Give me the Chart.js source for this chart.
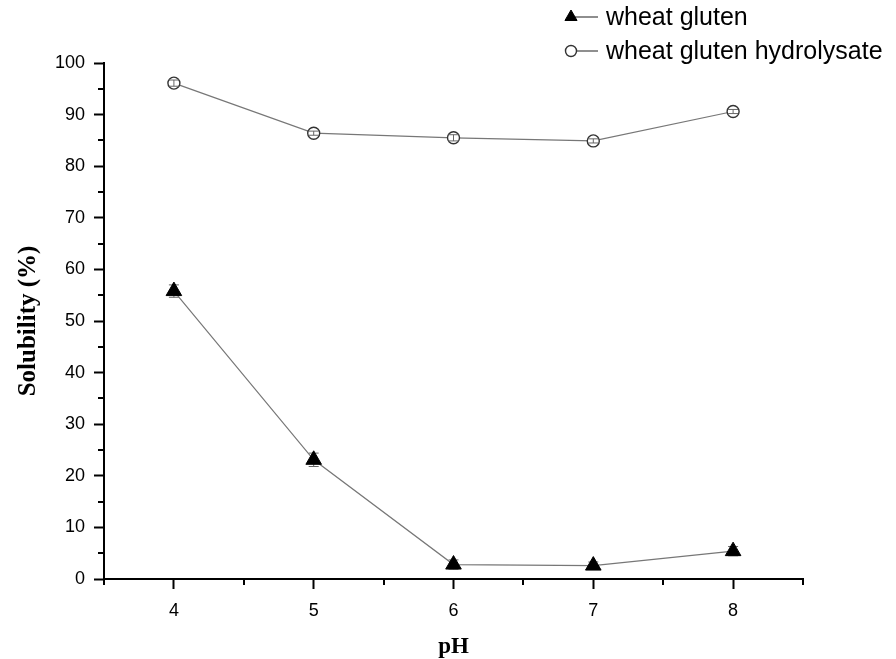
<!DOCTYPE html>
<html>
<head>
<meta charset="utf-8">
<script src="https://cdn.jsdelivr.net/npm/chart.js@4.4.1/dist/chart.umd.min.js"></script>
<style>
  html, body { margin: 0; padding: 0; background: #fff; }
  #wrap { width: 896px; height: 659px; }
</style>
</head>
<body>
<div id="wrap"><canvas id="solChart" width="896" height="659"></canvas></div>
<script>
// pH values and solubility (%)
const phValues = [4, 5, 6, 7, 8];
const glutenValues = [55.8, 23.1, 2.8, 2.6, 5.4];
const glutenErrors = [1.2, 1.3, 0.9, 0.7, 0.9];
const hydrolysateValues = [96.1, 86.4, 85.5, 84.9, 90.6];
const hydrolysateErrors = [0.6, 0.4, 0.6, 0.4, 0.4];

const xMajorTicks = [4, 5, 6, 7, 8];
const xMinorTicks = [3.5, 4.5, 5.5, 6.5, 7.5, 8.5];
const yMajorTicks = [0, 10, 20, 30, 40, 50, 60, 70, 80, 90, 100];
const yMinorTicks = [5, 15, 25, 35, 45, 55, 65, 75, 85, 95];

const seriesNames = ['wheat gluten', 'wheat gluten hydrolysate'];

const toPoints = (vals, errs) => phValues.map((x, i) => ({ x, y: vals[i], err: errs[i] }));

// short ticks at the half steps, drawn through the scales
const minorTicks = {
    id: 'minorTicks',
    afterDraw(chart) {
        const { ctx, chartArea } = chart;
        const xs = chart.scales.x, ys = chart.scales.y;
        ctx.save();
        ctx.strokeStyle = '#000';
        ctx.lineWidth = 2;
        ctx.beginPath();
        xMinorTicks.forEach(v => {
            const px = Math.round(xs.getPixelForValue(v));
            ctx.moveTo(px, chartArea.bottom);
            ctx.lineTo(px, chartArea.bottom + 6);
        });
        yMinorTicks.forEach(v => {
            const py = Math.round(ys.getPixelForValue(v));
            ctx.moveTo(chartArea.left, py);
            ctx.lineTo(chartArea.left - 6, py);
        });
        ctx.stroke();
        ctx.restore();
    }
};

// small error bars with caps; under the triangles, over the open circles
function drawErrors(chart, ds) {
    const ctx = chart.ctx;
    const xs = chart.scales.x, ys = chart.scales.y;
    ctx.save();
    ctx.strokeStyle = '#666';
    ctx.lineWidth = 1;
    ds.data.forEach(p => {
        const px = xs.getPixelForValue(p.x);
        const top = ys.getPixelForValue(p.y + p.err);
        const bot = ys.getPixelForValue(p.y - p.err);
        ctx.beginPath();
        ctx.moveTo(px, top); ctx.lineTo(px, bot);
        ctx.moveTo(px - 5, top); ctx.lineTo(px + 5, top);
        ctx.moveTo(px - 5, bot); ctx.lineTo(px + 5, bot);
        ctx.stroke();
    });
    ctx.restore();
}

const errorBars = {
    id: 'errorBars',
    beforeDatasetsDraw(chart) {
        drawErrors(chart, chart.data.datasets[0]);
    },
    afterDatasetsDraw(chart) {
        drawErrors(chart, chart.data.datasets[1]);
    }
};

// legend in origin style: marker + short line + label
const originLegend = {
    id: 'originLegend',
    afterDraw(chart) {
        const ctx = chart.ctx;
        ctx.save();
        chart.data.datasets.forEach((ds, i) => {
            const y = 17 + i * 34;
            ctx.strokeStyle = '#444';
            ctx.lineWidth = 1.2;
            ctx.beginPath();
            ctx.moveTo(571, y);
            ctx.lineTo(598, y);
            ctx.stroke();
            ctx.fillStyle = ds.pointBackgroundColor;
            ctx.strokeStyle = ds.pointBorderColor;
            ctx.lineWidth = ds.pointBorderWidth;
            Chart.helpers.drawPoint(ctx, {
                pointStyle: ds.pointStyle,
                radius: ds.pointStyle === 'triangle' ? 7 : 5.5,
                borderWidth: ds.pointBorderWidth,
                rotation: 0
            }, 571, y);
            ctx.fillStyle = '#000';
            ctx.font = '25px "Liberation Sans", Arial, sans-serif';
            ctx.textBaseline = 'middle';
            ctx.fillText(ds.label, 606, y + 1);
        });
        ctx.restore();
    }
};

const ctx = document.getElementById('solChart').getContext('2d');
const solChart = new Chart(ctx, {
    type: 'line',
    data: {
        datasets: [{
            label: seriesNames[0],
            data: toPoints(glutenValues, glutenErrors),
            borderColor: '#777',
            borderWidth: 1.2,
            pointStyle: 'triangle',
            pointRadius: 9,
            pointBackgroundColor: '#000',
            pointBorderColor: '#000',
            pointBorderWidth: 1
        }, {
            label: seriesNames[1],
            data: toPoints(hydrolysateValues, hydrolysateErrors),
            borderColor: '#777',
            borderWidth: 1.2,
            pointStyle: 'circle',
            pointRadius: 6,
            pointBackgroundColor: '#fff',
            pointBorderColor: '#333',
            pointBorderWidth: 1.4
        }]
    },
    options: {
        responsive: false,
        animation: false,
        events: [],
        layout: { padding: { top: 63, right: 93, left: 0, bottom: 0 } },
        plugins: {
            legend: { display: false },
            tooltip: { enabled: false }
        },
        scales: {
            x: {
                type: 'linear',
                min: 3.5,
                max: 8.5,
                afterBuildTicks: s => { s.ticks = xMajorTicks.map(v => ({ value: v })); },
                afterFit: s => { s.height = 80; },
                grid: { drawOnChartArea: false, tickLength: 10, tickColor: '#000', tickWidth: 2 },
                border: { color: '#000', width: 2 },
                ticks: {
                    color: '#000',
                    padding: 11,
                    maxRotation: 0,
                    font: { family: '"Liberation Sans", Arial, sans-serif', size: 18 }
                },
                title: {
                    display: true,
                    text: 'pH',
                    color: '#000',
                    padding: 0,
                    font: { family: '"Liberation Serif", "Times New Roman", serif', size: 23, weight: 'bold', lineHeight: 1 }
                }
            },
            y: {
                min: 0,
                max: 100,
                afterBuildTicks: s => { s.ticks = yMajorTicks.map(v => ({ value: v })); },
                afterFit: s => { s.width = 104; },
                grid: { drawOnChartArea: false, tickLength: 10, tickColor: '#000', tickWidth: 2 },
                border: { color: '#000', width: 2 },
                ticks: {
                    color: '#000',
                    padding: 9,
                    font: { family: '"Liberation Sans", Arial, sans-serif', size: 18 }
                },
                title: {
                    display: true,
                    text: 'Solubility (%)',
                    color: '#000',
                    padding: { top: 16, bottom: 0 },
                    font: { family: '"Liberation Serif", "Times New Roman", serif', size: 25, weight: 'bold', lineHeight: 1 }
                }
            }
        }
    },
    plugins: [minorTicks, errorBars, originLegend]
});
</script>
</body>
</html>
